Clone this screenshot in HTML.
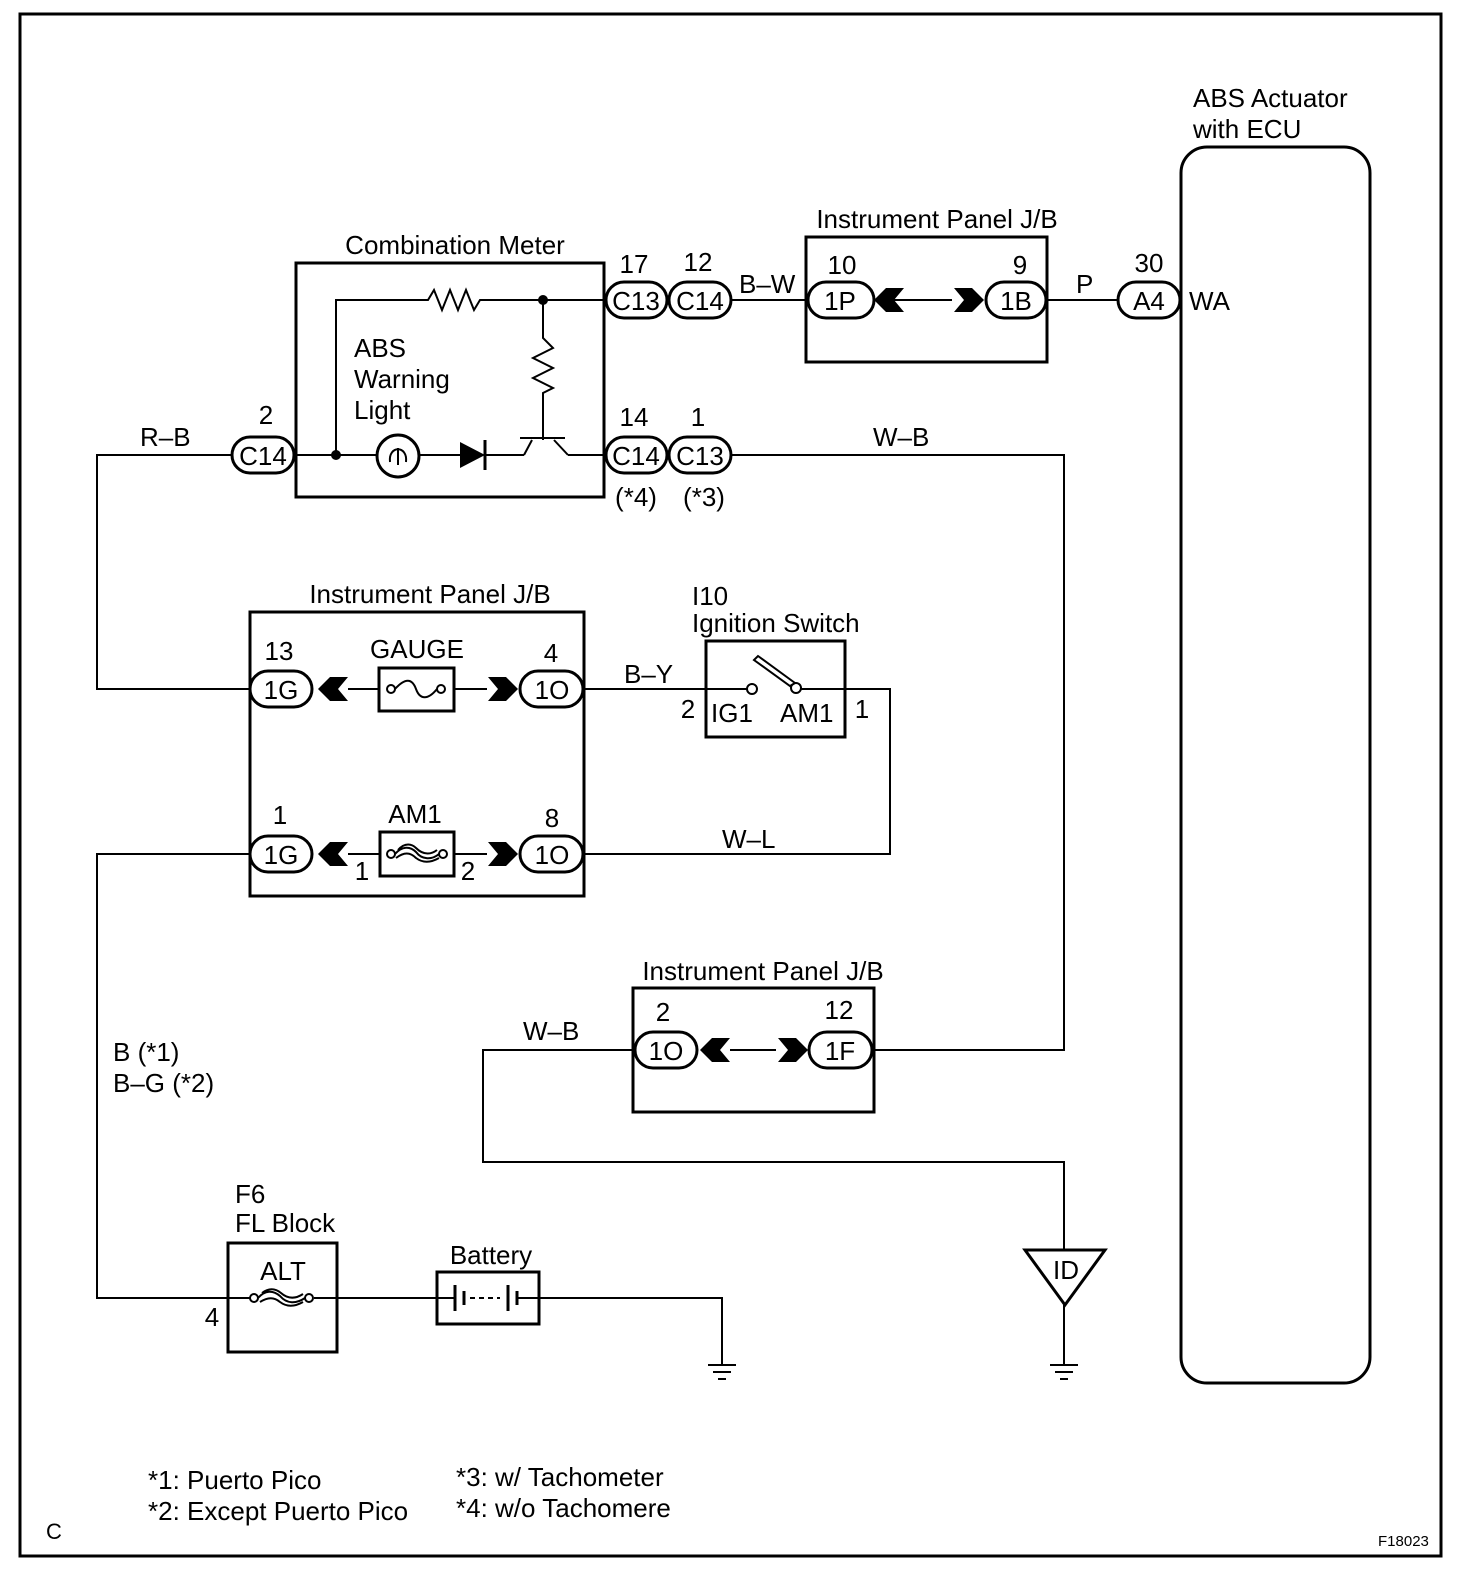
<!DOCTYPE html>
<html><head><meta charset="utf-8"><style>
html,body{margin:0;padding:0;background:#fff;overflow:hidden;width:1472px;height:1578px}
svg{display:block}
svg text{font-family:"Liberation Sans",sans-serif;fill:#000}
</style></head><body>
<svg width="1472" height="1578" viewBox="0 0 1472 1578" xmlns="http://www.w3.org/2000/svg">
<defs>
<g id="lc"><polygon points="0,0 12,-12 30,-12 20,0 30,12 12,12" fill="#000"/></g>
<g id="rc"><polygon points="0,0 -12,-12 -30,-12 -20,0 -30,12 -12,12" fill="#000"/></g>
</defs>
<rect x="20" y="14" width="1421" height="1542" fill="none" stroke="#000" stroke-width="3"/>
<g fill="none" stroke="#000" stroke-width="2">
<polyline points="232,455 97,455 97,689 250,689"/>
<polyline points="731,455 1064,455 1064,1050 873,1050"/>
<line x1="731" y1="300" x2="806" y2="300"/>
<line x1="1047" y1="300" x2="1118" y2="300"/>
<line x1="584" y1="689" x2="752" y2="689"/>
<polyline points="796,689 890,689 890,854 584,854"/>
<polyline points="250,854 97,854 97,1298 228,1298"/>
<line x1="337" y1="1298" x2="437" y2="1298"/>
<polyline points="539,1298 722,1298 722,1365"/>
<polyline points="633,1050 483,1050 483,1162 1064,1162 1064,1250"/>
<line x1="1064" y1="1305" x2="1064" y2="1365"/>
<line x1="708" y1="1365" x2="736" y2="1365"/><line x1="713" y1="1372" x2="731" y2="1372"/><line x1="718" y1="1379" x2="726" y2="1379"/>
<line x1="1050" y1="1365" x2="1078" y2="1365"/><line x1="1055" y1="1372" x2="1073" y2="1372"/><line x1="1060" y1="1379" x2="1068" y2="1379"/>
</g>
<g fill="none" stroke="#000" stroke-width="3">
<rect x="1181" y="147" width="189" height="1236" rx="26"/>
<rect x="296" y="263" width="308" height="234"/>
<rect x="806" y="237" width="241" height="125"/>
<rect x="250" y="612" width="334" height="284"/>
<rect x="706" y="641" width="139" height="96"/>
<rect x="633" y="988" width="241" height="124"/>
<rect x="228" y="1243" width="109" height="109"/>
<rect x="437" y="1272" width="102" height="52"/>
<rect x="379" y="668" width="75" height="43"/>
<rect x="380" y="832" width="74" height="44"/>
<polygon points="1025,1250 1105,1250 1065,1305"/>
</g>
<g fill="none" stroke="#000" stroke-width="2">
<polyline points="336,455 336,300 428,300 434,290 442,310 450,290 458,310 466,290 474,310 480,300 606,300"/>
<polyline points="543,300 543,338 553,348 533,358 553,368 533,378 553,388 543,393 543,440"/>
<line x1="296" y1="455" x2="377" y2="455"/>
<line x1="419" y1="455" x2="460" y2="455"/>
<line x1="486" y1="455" x2="524" y2="455"/>
<line x1="524" y1="455" x2="532" y2="440"/><line x1="520" y1="438" x2="565" y2="438"/><line x1="554" y1="440" x2="568" y2="455"/>
<line x1="568" y1="455" x2="606" y2="455"/>
<circle cx="398" cy="456" r="21" stroke-width="3"/>
<path d="M390,462 C388,445 408,445 406,462 M398,448 L398,465"/>
<line x1="485" y1="440" x2="485" y2="470" stroke-width="3"/>
<line x1="454" y1="689" x2="487" y2="689"/><line x1="348" y1="689" x2="379" y2="689"/>
<line x1="454" y1="854" x2="487" y2="854"/><line x1="348" y1="854" x2="380" y2="854"/>
<line x1="874" y1="300" x2="952" y2="300"/>
<line x1="730" y1="1050" x2="776" y2="1050"/>
<circle cx="391" cy="689" r="4" fill="#fff"/><circle cx="441" cy="689" r="4" fill="#fff"/>
<path d="M395,689 C405,678 412,678 416,689 C420,700 428,700 437,689"/>
<circle cx="391" cy="854" r="4" fill="#fff"/><circle cx="443" cy="854" r="4" fill="#fff"/>
<path d="M395,854 C402,846 410,846 416,852 C422,860 432,860 439,854 M398,850 C405,842 412,844 416,848 C424,856 432,854 437,850 M396,858 C404,852 410,852 416,858 C424,864 432,862 439,858"/>
<line x1="228" y1="1298" x2="250" y2="1298"/><line x1="314" y1="1298" x2="337" y2="1298"/>
<circle cx="254" cy="1298" r="4" fill="#fff"/><circle cx="309" cy="1298" r="4" fill="#fff"/>
<path d="M258,1298 C265,1290 273,1290 280,1296 C287,1304 296,1304 305,1298 M262,1293 C270,1287 276,1289 281,1293 C289,1300 297,1298 303,1294 M260,1302 C268,1297 274,1297 280,1302 C288,1308 296,1306 303,1302"/>
<line x1="437" y1="1298" x2="455" y2="1298"/><line x1="455" y1="1285" x2="455" y2="1311" stroke-width="3"/>
<line x1="464" y1="1291" x2="464" y2="1305" stroke-width="3"/>
<line x1="470" y1="1298" x2="500" y2="1298" stroke-dasharray="5,4"/>
<line x1="508" y1="1285" x2="508" y2="1311" stroke-width="3"/><line x1="517" y1="1291" x2="517" y2="1305" stroke-width="3"/>
<line x1="517" y1="1298" x2="539" y2="1298"/>
<line x1="706" y1="689" x2="752" y2="689"/><line x1="796" y1="689" x2="845" y2="689"/>
<circle cx="752" cy="689" r="5" fill="#fff"/><circle cx="796" cy="688" r="5" fill="#fff"/>
<polygon points="754,660 758,656 795,683 790,686" fill="#fff"/>
</g>
<g fill="#000">
<circle cx="336" cy="455" r="5"/><circle cx="543" cy="300" r="5"/>
<polygon points="460,442 485,455 460,468"/>
<use href="#lc" x="318" y="689"/><use href="#rc" x="518" y="689"/>
<use href="#lc" x="318" y="854"/><use href="#rc" x="518" y="854"/>
<use href="#lc" x="874" y="300"/><use href="#rc" x="984" y="300"/>
<use href="#lc" x="700" y="1050"/><use href="#rc" x="808" y="1050"/>
</g>
<g fill="#fff" stroke="#000" stroke-width="3">
<rect x="606" y="282" width="61" height="36" rx="18"/>
<rect x="669" y="282" width="62" height="36" rx="18"/>
<rect x="232" y="437" width="62" height="36" rx="18"/>
<rect x="606" y="437" width="61" height="36" rx="18"/>
<rect x="669" y="437" width="62" height="36" rx="18"/>
<rect x="808" y="282" width="66" height="36" rx="18"/>
<rect x="986" y="282" width="60" height="36" rx="18"/>
<rect x="1118" y="282" width="62" height="36" rx="18"/>
<rect x="250" y="671" width="62" height="36" rx="18"/>
<rect x="520" y="671" width="63" height="36" rx="18"/>
<rect x="250" y="836" width="62" height="36" rx="18"/>
<rect x="520" y="836" width="63" height="36" rx="18"/>
<rect x="635" y="1032" width="62" height="36" rx="18"/>
<rect x="809" y="1032" width="63" height="36" rx="18"/>
</g>
<g font-size="26" text-anchor="middle">
<text x="636" y="310">C13</text><text x="700" y="310">C14</text>
<text x="263" y="465">C14</text><text x="636" y="465">C14</text><text x="700" y="465">C13</text>
<text x="840" y="310">1P</text><text x="1016" y="310">1B</text><text x="1149" y="310">A4</text>
<text x="281" y="699">1G</text><text x="552" y="699">1O</text>
<text x="281" y="864">1G</text><text x="552" y="864">1O</text>
<text x="666" y="1060">1O</text><text x="840" y="1060">1F</text>
<text x="634" y="273">17</text><text x="698" y="271">12</text>
<text x="266" y="424">2</text><text x="634" y="426">14</text><text x="698" y="426">1</text>
<text x="636" y="506">(*4)</text><text x="704" y="506">(*3)</text>
<text x="842" y="274">10</text><text x="1020" y="274">9</text><text x="1149" y="272">30</text>
<text x="279" y="660">13</text><text x="551" y="662">4</text>
<text x="280" y="824">1</text><text x="552" y="827">8</text>
<text x="362" y="880">1</text><text x="468" y="880">2</text>
<text x="663" y="1021">2</text><text x="839" y="1019">12</text>
<text x="455" y="254">Combination Meter</text>
<text x="937" y="228">Instrument Panel J/B</text>
<text x="430" y="603">Instrument Panel J/B</text>
<text x="763" y="980">Instrument Panel J/B</text>
<text x="417" y="658">GAUGE</text><text x="415" y="823">AM1</text>
<text x="283" y="1280">ALT</text><text x="491" y="1264">Battery</text>
<text x="1066" y="1279">ID</text>
<text x="688" y="718">2</text><text x="862" y="718">1</text>
<text x="212" y="1326">4</text>
</g>
<g font-size="26">
<text x="1193" y="107">ABS Actuator</text><text x="1193" y="138">with ECU</text>
<text x="354" y="357">ABS</text><text x="354" y="388">Warning</text><text x="354" y="419">Light</text>
<text x="140" y="446">R–B</text><text x="873" y="446">W–B</text>
<text x="739" y="293">B–W</text><text x="1076" y="293">P</text><text x="1189" y="310">WA</text>
<text x="624" y="683">B–Y</text><text x="722" y="848">W–L</text>
<text x="692" y="605">I10</text><text x="692" y="632">Ignition Switch</text>
<text x="711" y="722">IG1</text><text x="780" y="722">AM1</text>
<text x="523" y="1040">W–B</text>
<text x="113" y="1061">B (*1)</text><text x="113" y="1092">B–G (*2)</text>
<text x="235" y="1203">F6</text><text x="235" y="1232">FL Block</text>
<text x="148" y="1489">*1: Puerto Pico</text><text x="148" y="1520">*2: Except Puerto Pico</text>
<text x="456" y="1486">*3: w/ Tachometer</text><text x="456" y="1517">*4: w/o Tachomere</text>
<text x="46" y="1539" font-size="22">C</text>
<text x="1378" y="1546" font-size="15">F18023</text>
</g>
</svg>
</body></html>
